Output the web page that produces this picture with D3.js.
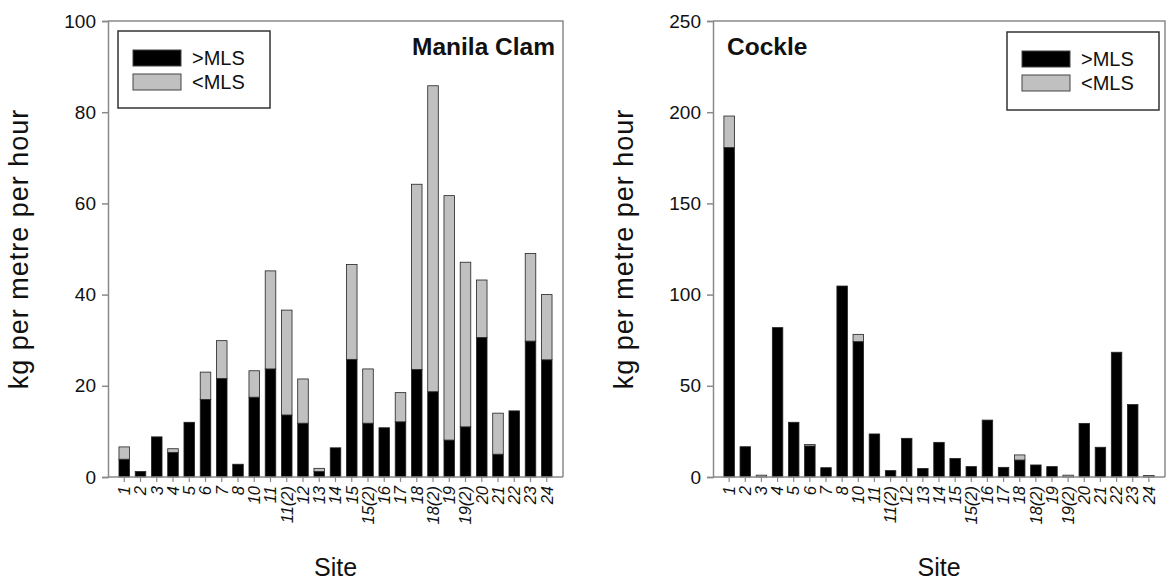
<!DOCTYPE html>
<html>
<head>
<meta charset="utf-8">
<script src="https://cdn.jsdelivr.net/npm/d3@7"></script>
<style>
  html, body { margin: 0; padding: 0; background: #fff; }
  svg { display: block; font-family: "Liberation Sans", Arial, sans-serif; }
</style>
</head>
<body>
<svg id="chart" width="1168" height="581"></svg>
<script>
// ---- data ----
const sites = ["1","2","3","4","5","6","7","8","10","11","11(2)","12","13","14","15","15(2)","16","17","18","18(2)","19","19(2)","20","21","22","23","24"];
const seriesKeys = [">MLS", "<MLS"];

const clamAbove = [3.9,1.2,8.8,5.4,12.0,17.0,21.6,2.8,17.5,23.7,13.6,11.8,1.2,6.4,25.8,11.8,10.8,12.1,23.6,18.7,8.1,11.0,30.6,5.0,14.5,29.8,25.7];
const clamBelow = [2.7,0,0,0.8,0,6.0,8.3,0,5.8,21.5,23.0,9.7,0.7,0,20.8,11.9,0,6.4,40.6,67.1,53.6,36.1,12.6,9.0,0,19.2,14.3];

const cockleAbove = [180.6,16.6,0,81.9,30.0,17.0,5.1,104.7,74.2,23.6,3.5,21.2,4.7,19.0,10.2,5.7,31.2,5.3,9.3,6.6,5.7,0,29.4,16.3,68.4,39.7,0];
const cockleBelow = [17.3,0,1.0,0,0,0.8,0,0,4.0,0,0,0,0,0,0,0,0,0,2.8,0,0,1.0,0,0,0,0,0.8];

const clamTicks = [0,20,40,60,80,100];
const cockleTicks = [0,50,100,150,200,250];

const yTitle = "kg per metre per hour";
const xTitle = "Site";

// ---- drawing ----
const svg = d3.select("#chart");
const colors = {">MLS": "#000000", "<MLS": "#c0c0c0"};
const frameColor = "#8a8a8a";

function drawPanel(opt) {
  const {x0, x1, y0, y1, above, below, ticks, title, titleAnchor, legendBox} = opt;
  const g = svg.append("g");
  const rows = sites.map((s, i) => ({site: s, ">MLS": above[i], "<MLS": below[i]}));
  const stacked = d3.stack().keys(seriesKeys)(rows);

  const x = d3.scaleBand().domain(sites).range([x0, x1]).paddingInner(0.35).paddingOuter(0.675);
  const y = d3.scaleLinear().domain([ticks[0], ticks[ticks.length - 1]]).range([y1, y0]);

  // frame (top and right)
  g.append("path")
    .attr("d", `M${x0},${y0}H${x1}V${y1}`)
    .attr("fill", "none").attr("stroke", frameColor).attr("stroke-width", 1.5);

  // bars
  g.selectAll("g.series").data(stacked).join("g")
    .attr("fill", d => colors[d.key])
    .selectAll("rect").data(d => d.filter(p => p[1] - p[0] > 0)).join("rect")
    .attr("x", d => x(d.data.site))
    .attr("width", x.bandwidth())
    .attr("y", d => y(d[1]))
    .attr("height", d => y(d[0]) - y(d[1]))
    .attr("stroke", "#222").attr("stroke-width", 0.8);

  // y axis
  const yAxis = d3.axisLeft(y).tickValues(ticks).tickSize(6).tickPadding(6).tickFormat(d3.format("d"));
  const ya = g.append("g").attr("transform", `translate(${x0},0)`).call(yAxis);
  ya.select(".domain").attr("stroke", frameColor).attr("stroke-width", 1.5);
  ya.selectAll(".tick line").attr("stroke", frameColor).attr("stroke-width", 1.5);
  ya.selectAll(".tick text").attr("font-size", 19).attr("fill", "#111")
    .attr("font-family", "Liberation Sans, Arial, sans-serif");

  // x axis
  const xAxis = d3.axisBottom(x).tickSize(5).tickPadding(3).tickSizeOuter(0);
  const xa = g.append("g").attr("transform", `translate(0,${y1})`).call(xAxis);
  xa.select(".domain").attr("stroke", frameColor).attr("stroke-width", 1.5)
    .attr("d", `M${x0},0H${x1}`);
  xa.selectAll(".tick line").attr("stroke", frameColor).attr("stroke-width", 1.2);
  xa.selectAll(".tick text")
    .attr("font-size", 16.5).attr("font-style", "italic").attr("fill", "#111")
    .attr("font-family", "Liberation Sans, Arial, sans-serif")
    .attr("text-anchor", "end")
    .attr("dy", "0.35em")
    .attr("transform", "translate(0,9) rotate(-90)")
    .attr("x", 0).attr("y", 0);

  // axis titles
  g.append("text")
    .attr("transform", `translate(${x0 - 80},${(y0 + y1) / 2}) rotate(-90)`)
    .attr("text-anchor", "middle").attr("font-size", 27).attr("letter-spacing", 1).attr("fill", "#111")
    .text(yTitle);
  g.append("text")
    .attr("x", (x0 + x1) / 2).attr("y", 576)
    .attr("text-anchor", "middle").attr("font-size", 25).attr("fill", "#111")
    .text(xTitle);

  // panel title
  g.append("text")
    .attr("x", titleAnchor === "end" ? x1 - 8 : x0 + 14)
    .attr("y", 55)
    .attr("text-anchor", titleAnchor)
    .attr("font-size", 24.5).attr("font-weight", "bold").attr("fill", "#111")
    .text(title);

  // legend
  const lb = legendBox;
  const lg = g.append("g").attr("transform", `translate(${lb.x},${lb.y})`);
  lg.append("rect").attr("width", lb.w).attr("height", lb.h)
    .attr("fill", "#fff").attr("stroke", "#333").attr("stroke-width", 1.5);
  seriesKeys.forEach((k, i) => {
    lg.append("rect").attr("x", 15).attr("y", 19 + i * 24).attr("width", 48).attr("height", 16)
      .attr("fill", colors[k]).attr("stroke", "#444").attr("stroke-width", 1);
    lg.append("text").attr("x", 74).attr("y", 27 + i * 24).attr("dy", "0.35em")
      .attr("font-size", 20).attr("fill", "#111").text(k);
  });
}

drawPanel({x0: 108, x1: 563, y0: 21, y1: 477, above: clamAbove, below: clamBelow,
  ticks: clamTicks, title: "Manila Clam", titleAnchor: "end",
  legendBox: {x: 118, y: 31, w: 152, h: 77}});

drawPanel({x0: 713, x1: 1165, y0: 21, y1: 477, above: cockleAbove, below: cockleBelow,
  ticks: cockleTicks, title: "Cockle", titleAnchor: "start",
  legendBox: {x: 1007, y: 32, w: 152, h: 78}});
</script>
</body>
</html>
